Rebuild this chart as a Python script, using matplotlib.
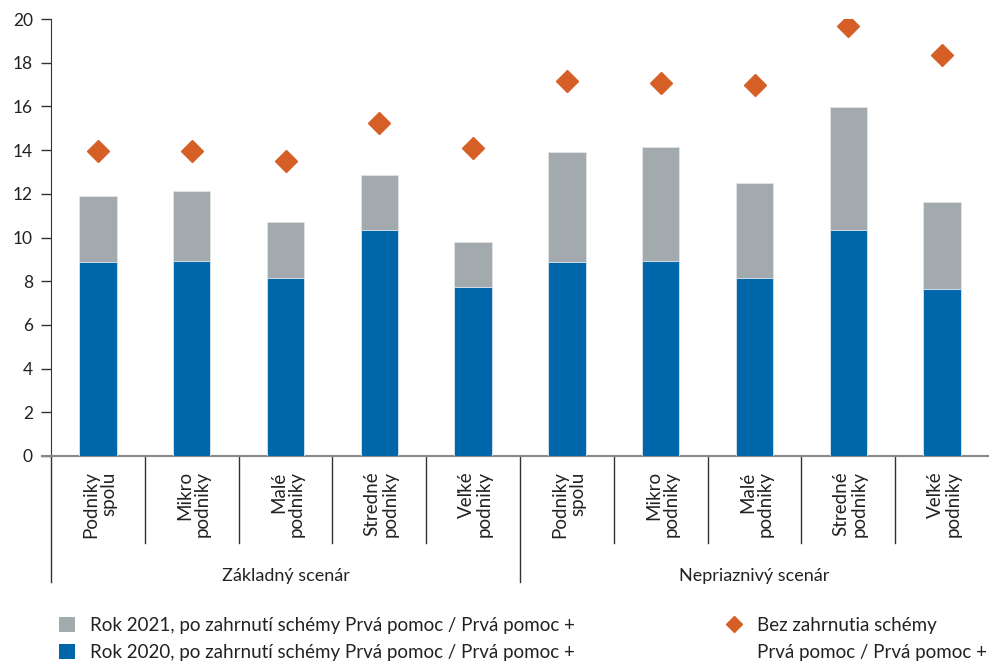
import numpy as np
import matplotlib.pyplot as plt
from matplotlib.patches import Patch
from matplotlib.lines import Line2D
import matplotlib.transforms as mtransforms

plt.rcParams['font.family'] = ['Lato', 'DejaVu Sans']

categories = ['Podniky\nspolu', 'Mikro\npodniky', 'Malé\npodniky', 'Stredné\npodniky', 'Veľké\npodniky'] * 2
groups = ['Základný scenár', 'Nepriaznivý scenár']
rok_2020 = [8.86, 8.94, 8.13, 10.34, 7.72, 8.86, 8.94, 8.13, 10.34, 7.66]
rok_2021 = [11.91, 12.11, 10.71, 12.86, 9.79, 13.90, 14.13, 12.48, 15.97, 11.62]
bez_schemy = [13.96, 13.96, 13.51, 15.25, 14.11, 17.18, 17.09, 16.98, 19.68, 18.35]

c_blue = '#0067ab'
c_gray = '#a3aaad'
c_orange = '#d65f27'

fig = plt.figure(figsize=(9.89, 6.61), dpi=100)
ax = fig.add_axes([51 / 989, (661 - 456) / 661, 938 / 989, 437 / 661])

x = np.arange(len(categories))
ax.bar(x, rok_2021, width=0.4, color=c_gray, edgecolor='#dfe3e6', linewidth=0.7, zorder=2)
ax.bar(x, rok_2020, width=0.4, color=c_blue, edgecolor='#cfdde9', linewidth=0.7, zorder=3)
ax.plot(x, bez_schemy, linestyle='none', marker='D', ms=11.5, color=c_orange, zorder=4)

ax.set_xlim(-0.5, len(categories) - 0.5)
ax.set_ylim(0, 20)
ax.set_yticks(range(0, 21, 2))
ax.tick_params(axis='y', direction='out', length=7, width=1, color='#333333',
               labelsize=12.5, labelcolor='#222222', pad=6)
ax.set_xticks([])
for s in ['top', 'right']:
    ax.spines[s].set_visible(False)
ax.spines['left'].set_color('#333333')
ax.spines['bottom'].set_color('#888888')
ax.spines['bottom'].set_linewidth(1.5)
# stub of the bottom line left of the axis (the 0 tick)
ax.plot([-0.6, -0.5], [0, 0], color='#888888', lw=1.5, clip_on=False)

trans = mtransforms.blended_transform_factory(ax.transData, ax.transAxes)
# category separators and group separators below the axis
for b in np.arange(0.5, len(categories) - 1, 1.0):
    if b == 4.5:
        continue
    ax.plot([b, b], [0, -0.199], color='#333333', lw=1, transform=trans, clip_on=False)
for b in [-0.5, 4.5]:
    ax.plot([b, b], [0, -0.288], color='#333333', lw=1, transform=trans, clip_on=False)

for xi, lab in zip(x, categories):
    ax.text(xi + 0.02, -0.035, lab, rotation=90, ha='center', va='top', multialignment='right',
            fontsize=13.5, color='#222222', linespacing=1.05, transform=trans)

for gi, g in enumerate(groups):
    ax.text(gi * 5 + 2, -0.275, g, ha='center', va='center', fontsize=13,
            color='#222222', transform=trans)

leg_kw = dict(loc='upper left', frameon=False, fontsize=13.5, handlelength=0.85,
              handleheight=0.85, handletextpad=0.8, labelspacing=0.55,
              labelcolor='#222222', borderpad=0.3)
h_bars = [Patch(facecolor=c_gray, edgecolor='none'), Patch(facecolor=c_blue, edgecolor='none')]
lab_bars = ['Rok 2021, po zahrnutí schémy Prvá pomoc / Prvá pomoc +',
            'Rok 2020, po zahrnutí schémy Prvá pomoc / Prvá pomoc +']
fig.legend(h_bars, lab_bars, bbox_to_anchor=(44 / 989, 1 - 602 / 661), **leg_kw)

h_d = [Line2D([], [], linestyle='none', marker='D', ms=8.5, color=c_orange),
       Line2D([], [], linestyle='none')]
fig.legend(h_d, ['Bez zahrnutia schémy', 'Prvá pomoc / Prvá pomoc +'],
           bbox_to_anchor=(711 / 989, 1 - 602 / 661), **leg_kw)

fig.savefig('out.png', dpi=100)
